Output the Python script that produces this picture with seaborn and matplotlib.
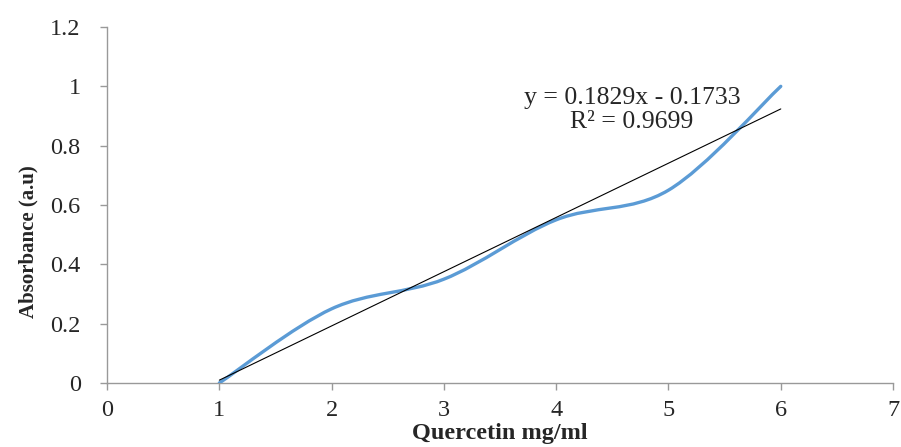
"""Quercetin calibration curve: absorbance vs concentration with linear trendline."""
import numpy as np
import matplotlib.pyplot as plt
from matplotlib.path import Path
from matplotlib.patches import PathPatch
import seaborn as sns

# data
conc = [1, 2, 3, 4, 5, 6]
absorbance = [0.0, 0.25, 0.35, 0.55, 0.65, 1.0]
eq_text = "y = 0.1829x - 0.1733"
r2_text = "R² = 0.9699"
x_ticks = [0, 1, 2, 3, 4, 5, 6, 7]
y_ticks = [0, 0.2, 0.4, 0.6, 0.8, 1.0, 1.2]
y_ticklabels = ["0", "0.2", "0.4", "0.6", "0.8", "1", "1.2"]

sns.set_style("ticks")
plt.rcParams["font.family"] = ["Liberation Serif", "DejaVu Serif"]

fig = plt.figure(figsize=(9.01, 4.47), dpi=100)
ax = fig.add_axes([0.1188, 0.1432, 0.8724, 0.7964])

# smoothed line (Excel-style bezier through the points)
x = np.array(conc, dtype=float)
y = np.array(absorbance, dtype=float)
n = len(x)
verts = [(x[0], y[0])]
codes = [Path.MOVETO]
for i in range(n - 1):
    p0 = np.array([x[max(i - 1, 0)], y[max(i - 1, 0)]])
    p1 = np.array([x[i], y[i]])
    p2 = np.array([x[i + 1], y[i + 1]])
    p3 = np.array([x[min(i + 2, n - 1)], y[min(i + 2, n - 1)]])
    c1 = p1 + (p2 - p0) / 6
    c2 = p2 - (p3 - p1) / 6
    verts += [tuple(c1), tuple(c2), tuple(p2)]
    codes += [Path.CURVE4] * 3
ax.add_patch(PathPatch(Path(verts, codes), facecolor="none",
                       edgecolor="#5B9BD5", lw=2.4, capstyle="round", zorder=3))

# linear trendline
slope, icpt = np.polyfit(x, y, 1)
sns.lineplot(x=x, y=slope * x + icpt, ax=ax, color="black", lw=0.8, zorder=4)

ax.text(0.668, 0.8, eq_text, transform=ax.transAxes, ha="center",
        va="center", fontsize=18.5)
ax.text(0.668, 0.733, r2_text, transform=ax.transAxes, ha="center",
        va="center", fontsize=18.5)

ax.set_xlim(0, 7)
ax.set_ylim(0, 1.2)
ax.set_xticks(x_ticks)
ax.set_yticks(y_ticks)
ax.set_yticklabels(y_ticklabels)
ax.tick_params(axis="both", labelsize=17.5, color="#999999", length=5,
               width=1, direction="out")
ax.tick_params(axis="y", pad=14)
ax.tick_params(axis="x", pad=7)
for s in ["top", "right"]:
    ax.spines[s].set_visible(False)
for s in ["left", "bottom"]:
    ax.spines[s].set_color("#999999")
    ax.spines[s].set_linewidth(1)

ax.set_xlabel("Quercetin mg/ml", fontsize=17.5, fontweight="bold", va="center")
ax.xaxis.set_label_coords(0.5, -0.141)
ax.set_ylabel("Absorbance (a.u)", fontsize=15, fontweight="bold", va="center")
ax.yaxis.set_label_coords(-0.1, 0.396)

fig.savefig("out.png", dpi=100)
